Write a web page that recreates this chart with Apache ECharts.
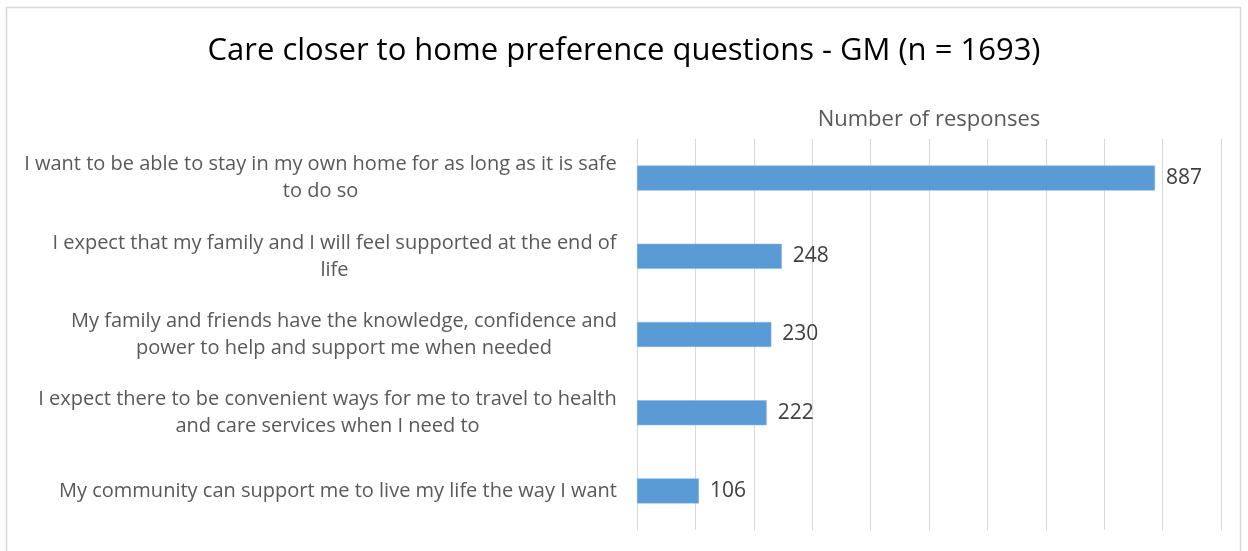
<!DOCTYPE html>
<html><head><meta charset="utf-8">
<script src="https://cdn.jsdelivr.net/npm/echarts@6/dist/echarts.min.js"></script>
<style>html,body{margin:0;padding:0;background:#fff}#c{width:1248px;height:551px}</style>
</head><body><div id="c"></div>
<script>
const titleText = 'Care closer to home preference questions - GM (n = 1693)';
const axisName = 'Number of responses';
const categories = [
  'I want to be able to stay in my own home for as long as it is safe\nto do so',
  'I expect that my family and I will feel supported at the end of\nlife',
  'My family and friends have the knowledge, confidence and\npower to help and support me when needed',
  'I expect there to be convenient ways for me to travel to health\nand care services when I need to',
  'My community can support me to live my life the way I want'
];
const values = [887, 248, 230, 222, 106];

const FONT = 'Open Sans';
const LABEL_SIZE = 20;
const ctx = document.createElement('canvas').getContext('2d');
ctx.font = LABEL_SIZE + 'px "' + FONT + '"';
function blockWidth(v) {
  return Math.ceil(Math.max(...v.split('\n').map(l => ctx.measureText(l).width)));
}
function fmt(v) {
  const w = blockWidth(v);
  return v.split('\n').map(l => '{c' + w + '|' + l + '}').join('\n');
}
const rich = {};
categories.forEach(v => {
  const w = blockWidth(v);
  rich['c' + w] = {width: w, align: 'center', fontFamily: FONT, fontSize: LABEL_SIZE, color: '#595959', lineHeight: 27};
});

const chart = echarts.init(document.getElementById('c'), null, {renderer: 'canvas'});
chart.setOption({
  animation: false,
  backgroundColor: '#fff',
  graphic: [{type: 'rect', shape: {x: 6.5, y: 7.5, width: 1234, height: 560}, style: {fill: 'none', stroke: '#d9d9d9', lineWidth: 1.5}}],
  title: {text: titleText, left: 'center', top: 31, textStyle: {fontFamily: FONT, fontSize: 31, fontWeight: 'normal', color: '#000'}},
  grid: {left: 637, right: 27, top: 139, bottom: 21, containLabel: false},
  xAxis: {
    type: 'value', min: 0, max: 1000, interval: 100, position: 'top',
    name: axisName, nameLocation: 'middle', nameGap: 8,
    nameTextStyle: {fontFamily: FONT, fontSize: 22, color: '#595959'},
    axisLabel: {show: false}, axisTick: {show: false}, axisLine: {show: false},
    splitLine: {show: true, lineStyle: {color: '#d9d9d9', width: 1}}
  },
  yAxis: {
    type: 'category', data: categories, inverse: true,
    axisLine: {show: false}, axisTick: {show: false},
    axisLabel: {formatter: fmt, rich: rich, align: 'right', margin: 20, fontFamily: FONT, fontSize: LABEL_SIZE, color: '#595959'}
  },
  series: [{
    type: 'bar', data: values, barWidth: 25,
    itemStyle: {color: '#5b9bd5', borderColor: '#7fb2e5', borderWidth: 0.5},
    label: {show: true, position: 'right', distance: 11, fontFamily: FONT, fontSize: 21, color: '#404040'}
  }]
});
</script></body></html>
